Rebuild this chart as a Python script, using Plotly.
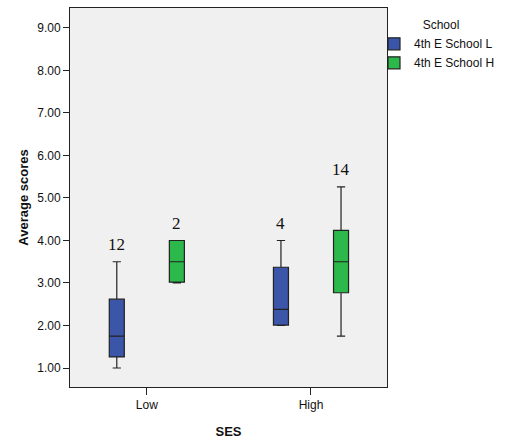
import plotly.graph_objects as go

categories = ["Low", "High"]
schools = ["4th E School L", "4th E School H"]
colors = ["#3B55A8", "#2DB84B"]
# per school: values for Low, High
lower = [[1.0, 2.0], [3.0, 1.75]]
q1 = [[1.26, 2.01], [3.02, 2.77]]
median = [[1.75, 2.38], [3.5, 3.5]]
q3 = [[2.62, 3.37], [4.0, 4.24]]
upper = [[3.5, 4.0], [4.0, 5.26]]
labels = [["12", "4"], ["2", "14"]]

fig = go.Figure()
for i, s in enumerate(schools):
    fig.add_trace(go.Box(
        x=categories, name=s, q1=q1[i], median=median[i], q3=q3[i],
        lowerfence=lower[i], upperfence=upper[i],
        fillcolor=colors[i], line=dict(color="#222222", width=1.2),
        whiskerwidth=0.55, boxpoints=False,
    ))

offs = [-0.183, 0.183]
for i in range(2):
    for j in range(2):
        fig.add_annotation(x=j + offs[i], y=upper[i][j], xref="x", yref="y",
                           text=labels[i][j], showarrow=False, yshift=17,
                           font=dict(family="Liberation Serif", size=17, color="#111"))

fig.update_layout(
    width=509, height=447,
    margin=dict(l=70, r=122, t=8, b=60, autoexpand=False),
    paper_bgcolor="white", plot_bgcolor="#F0F0F0",
    boxmode="group", boxgap=0.268, boxgroupgap=0.75,
    font=dict(family="Liberation Sans", size=12, color="#111"),
    legend=dict(x=0.959, y=0.985, xanchor="left", yanchor="top", bgcolor="rgba(0,0,0,0)",
                title=dict(text="              School", font=dict(size=12)),
                font=dict(size=12), tracegroupgap=0, itemwidth=30),
    showlegend=True,
)
fig.update_xaxes(type="category", range=[-0.468, 1.463], showline=True, linecolor="#222",
                 linewidth=1, mirror=True, ticks="outside", ticklen=7, tickcolor="#222",
                 showgrid=False, automargin=False,
                 title=dict(text="<b>SES</b>", font=dict(size=13), standoff=15))
fig.update_yaxes(range=[0.553, 9.47], dtick=1, tickformat=".2f", showline=True, linecolor="#222",
                 linewidth=1, mirror=True, ticks="outside", ticklen=6, tickcolor="#222",
                 showgrid=False, zeroline=False, automargin=False,
                 title=dict(text="<b>Average scores</b>", font=dict(size=13), standoff=5))

fig.write_html("out.html", config={"displayModeBar": False},
               post_script="document.body.style.margin='0';")
